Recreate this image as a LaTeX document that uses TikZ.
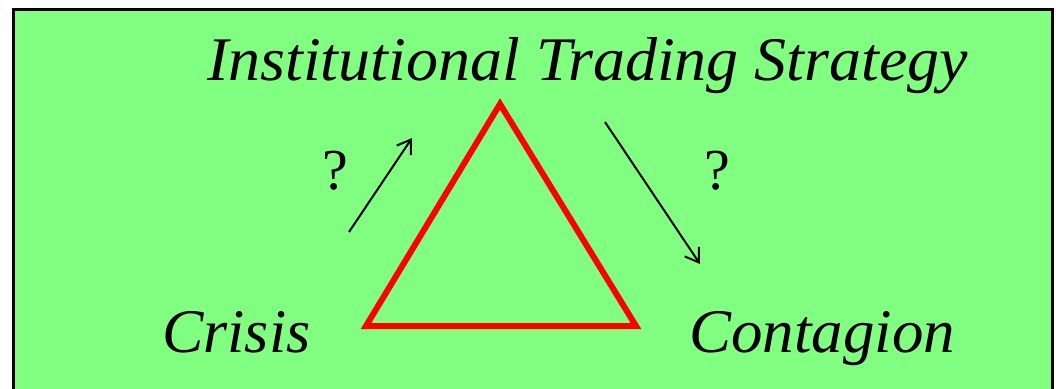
\documentclass[tikz,border=0pt]{standalone}
\usepackage{fontspec}
\setmainfont{Liberation Serif}
\usetikzlibrary{arrows.meta}
\definecolor{bg}{HTML}{80FF80}
\tikzset{
  lbl/.style={font=\fontsize{62}{74}\selectfont\itshape, inner sep=0pt, anchor=base west},
  qm/.style={font=\fontsize{58}{68}\selectfont, inner sep=0pt},
  arr/.style={line width=2pt, -{Straight Barb[length=13pt,width=17pt,line width=2pt]}},
  tri/.style={draw=red, line width=6pt, line join=miter}
}
\begin{document}
\begin{tikzpicture}[x=1pt,y=-1pt]
\useasboundingbox (0,0) rectangle (1056,388);
\begin{scope}
\clip (0,0) rectangle (1056,388);
\draw[fill=bg, line width=3pt] (13,9) rectangle (1052,420);
\end{scope}
\node[lbl, xscale=1.032] (its) at (207,80) {Institutional Trading Strategy};
\node[lbl] (crisis) at (162,352) {Crisis};
\node[lbl, xscale=1.015] (cont) at (689,352) {Contagion};
\coordinate (A) at (500,104);
\coordinate (B) at (366,326);
\coordinate (C) at (636,326);
\draw[tri] (A) -- (B) -- (C) -- cycle;
\coordinate (a1s) at (349,232);
\coordinate (a1e) at (412,138);
\coordinate (a2s) at (605,122);
\coordinate (a2e) at (700,264);
\draw[arr] (a1s) -- (a1e);
\draw[arr] (a2s) -- (a2e);
\node[qm] (q1) at (335,171) {?};
\node[qm] (q2) at (717,171) {?};
\end{tikzpicture}
\end{document}
